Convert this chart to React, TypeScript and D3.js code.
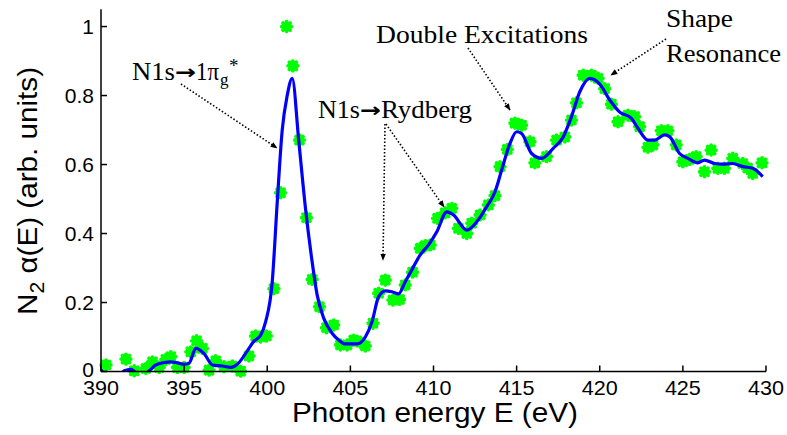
import React from "react";
import * as d3 from "d3";

// ---- data ----
const fitEnergy = [390.0, 390.5, 391.0, 391.4, 391.8, 392.1, 392.5, 392.9, 393.3, 393.8, 394.2, 394.6, 395.0, 395.3, 395.7, 396.2, 396.7, 397.3, 397.8, 398.3, 398.8, 399.2, 399.6, 399.9, 400.3, 400.6, 400.9, 401.2, 401.5, 401.9, 402.3, 402.7, 403.0, 403.4, 403.9, 404.3, 404.7, 405.4, 405.9, 406.3, 406.7, 407.1, 407.5, 407.9, 408.3, 408.8, 409.2, 409.7, 410.2, 410.8, 411.2, 412.0, 412.6, 413.2, 413.7, 414.1, 414.6, 415.0, 415.3, 415.9, 416.5, 417.2, 417.8, 418.3, 418.8, 419.4, 420.0, 420.6, 421.2, 421.9, 422.3, 422.9, 423.3, 423.9, 424.2, 424.8, 425.3, 425.9, 426.3, 426.9, 427.4, 428.0, 428.6, 429.2, 429.8];
const fitAlpha = [0.004, -0.012, -0.015, 0.002, 0.006, -0.003, -0.012, 0.002, 0.019, 0.026, 0.028, 0.025, 0.021, 0.024, 0.067, 0.052, 0.019, 0.016, 0.012, 0.026, 0.06, 0.088, 0.105, 0.144, 0.26, 0.49, 0.70, 0.80, 0.85, 0.666, 0.473, 0.318, 0.222, 0.154, 0.111, 0.091, 0.080, 0.080, 0.10, 0.144, 0.217, 0.234, 0.231, 0.225, 0.26, 0.304, 0.338, 0.367, 0.405, 0.463, 0.454, 0.41, 0.434, 0.478, 0.521, 0.584, 0.661, 0.695, 0.69, 0.632, 0.618, 0.647, 0.68, 0.739, 0.811, 0.85, 0.833, 0.787, 0.752, 0.734, 0.705, 0.671, 0.671, 0.686, 0.681, 0.632, 0.618, 0.605, 0.613, 0.603, 0.601, 0.603, 0.594, 0.589, 0.565];

const measEnergy = [390.3, 391.5, 392.0, 392.7, 393.1, 393.5, 393.9, 394.2, 394.6, 395.0, 395.4, 395.75, 396.1, 396.5, 396.9, 397.4, 397.9, 398.4, 398.9, 399.3, 399.6, 399.95, 400.4, 400.8, 401.16, 401.54, 401.94, 402.36, 402.7, 403.14, 403.56, 404.0, 404.4, 404.8, 405.2, 405.6, 405.9, 406.36, 406.7, 407.1, 407.56, 407.96, 408.3, 408.74, 409.2, 409.5, 409.8, 410.24, 410.7, 411.1, 411.5, 412.0, 412.3, 412.8, 413.3, 413.7, 414.0, 414.44, 414.9, 415.3, 415.8, 416.1, 416.8, 417.4, 417.9, 418.3, 418.6, 419.0, 419.5, 419.9, 420.3, 420.7, 421.1, 421.7, 422.1, 422.4, 422.9, 423.2, 423.7, 424.1, 424.6, 425.0, 425.4, 425.8, 426.3, 426.7, 427.1, 427.5, 428.0, 428.6, 428.9, 429.2, 429.76];
const measAlpha = [0.019, 0.036, 0.002, 0.009, 0.028, 0.012, 0.035, 0.043, 0.012, 0.012, 0.057, 0.089, 0.067, 0.004, 0.031, 0.014, 0.016, 0.001, 0.045, 0.103, 0.10, 0.103, 0.24, 0.518, 1.0, 0.886, 0.671, 0.446, 0.267, 0.188, 0.127, 0.135, 0.077, 0.077, 0.091, 0.085, 0.074, 0.14, 0.227, 0.265, 0.207, 0.209, 0.251, 0.288, 0.357, 0.365, 0.367, 0.444, 0.46, 0.473, 0.415, 0.40, 0.43, 0.454, 0.483, 0.51, 0.594, 0.644, 0.72, 0.714, 0.666, 0.605, 0.623, 0.671, 0.68, 0.729, 0.779, 0.859, 0.859, 0.85, 0.82, 0.775, 0.724, 0.743, 0.739, 0.71, 0.65, 0.657, 0.698, 0.698, 0.657, 0.608, 0.615, 0.623, 0.579, 0.642, 0.589, 0.589, 0.618, 0.603, 0.59, 0.574, 0.605];

const xTicks = [390, 395, 400, 405, 410, 415, 420, 425, 430];
const yTicks = [0, 0.2, 0.4, 0.6, 0.8, 1];
const xLabel = "Photon energy E (eV)";

export default function App() {
  const W = 787, H = 435;
  const x = d3.scaleLinear().domain([390, 430]).range([101, 766]);
  const y = d3.scaleLinear().domain([0, 1.05]).range([371.5, 9.3]);

  const fit = fitEnergy.map((e, i) => [e, fitAlpha[i]] as [number, number]);
  const line = d3.line<[number, number]>()
    .x(d => x(d[0])).y(d => y(d[1]))
    .curve(d3.curveMonotoneX);

  const r = 4.8, dd = 3.5;
  const star = `M0,${-r}L0,${r}M${-r},0L${r},0M${-dd},${-dd}L${dd},${dd}M${-dd},${dd}L${dd},${-dd}`;

  const sans = "Liberation Sans, Arial, sans-serif";
  const serif = "Liberation Serif, Times New Roman, serif";

  const arrows: [number, number, number, number][] = [
    [181, 84, 277, 148],
    [385, 124, 383, 260],
    [386, 124, 444, 207],
    [468, 48, 510, 110],
    [666, 39, 611, 75],
  ];

  return (
    <svg width={W} height={H} style={{ position: "absolute", left: 0, top: 0, background: "#fff" }}>
      <defs>
        <clipPath id="plotclip">
          <rect x={x(390)} y={y(1.05)} width={x(430) - x(390)} height={y(0) - y(1.05)} />
        </clipPath>
        <marker id="ah" viewBox="0 0 10 10" refX="9" refY="5" markerWidth="7" markerHeight="7" orient="auto" markerUnits="userSpaceOnUse">
          <path d="M0,1 L10,5 L0,9 Z" fill="#000" />
        </marker>
      </defs>

      {/* markers */}
      <g stroke="#00ff00" strokeWidth={3.8} strokeLinecap="round" fill="#00ff00">
        {measEnergy.map((e, i) => (
          <g key={i} transform={`translate(${x(e)},${y(measAlpha[i])})`}>
            <path d={star} />
            <circle r={2.2} stroke="none" />
          </g>
        ))}
      </g>

      {/* fitted line */}
      <path d={line(fit) || ""} fill="none" stroke="#0000ff" strokeWidth={3.2} clipPath="url(#plotclip)" strokeLinejoin="round" />

      {/* axes */}
      <g stroke="#000" strokeWidth={1.5} fill="none">
        <line x1={x(390)} y1={y(0)} x2={x(430)} y2={y(0)} />
        <line x1={x(390)} y1={y(0)} x2={x(390)} y2={y(1.05)} />
        {xTicks.map(t => (
          <line key={t} x1={x(t)} x2={x(t)} y1={y(0)} y2={y(0) - 6} />
        ))}
        {yTicks.map(t => (
          <line key={t} x1={x(390)} x2={x(390) + 6} y1={y(t)} y2={y(t)} />
        ))}
      </g>
      <g fontFamily={sans} fontSize={21} fill="#000">
        {xTicks.map(t => (
          <text key={t} x={x(t)} y={395} textAnchor="middle" textLength={36} lengthAdjust="spacingAndGlyphs">{t}</text>
        ))}
        {yTicks.map(t => (
          <text key={t} x={94} y={y(t) + (t === 0 ? 5 : 7.5)} textAnchor="end">{d3.format("~g")(t)}</text>
        ))}
      </g>
      <text x={435} y={422} textAnchor="middle" fontFamily={sans} fontSize={28} textLength={286} lengthAdjust="spacingAndGlyphs">{xLabel}</text>
      <text transform="translate(37,191) rotate(-90)" textAnchor="middle" fontFamily={sans} fontSize={28} textLength={248} lengthAdjust="spacingAndGlyphs">
        <tspan>N</tspan>
        <tspan fontSize={20} dy={7}>2</tspan>
        <tspan dy={-7}> α(E) (arb. units)</tspan>
      </text>

      {/* annotations */}
      <g fontFamily={serif} fill="#000">
        <text y={80} fontSize={25}>
          <tspan x={132} textLength={43} lengthAdjust="spacingAndGlyphs">N1s</tspan>
          <tspan x={175} y={79} fontFamily="DejaVu Sans" fontWeight="bold" fontSize={20} textLength={21} lengthAdjust="spacingAndGlyphs">→</tspan>
          <tspan x={196} y={80} textLength={23} lengthAdjust="spacingAndGlyphs">1π</tspan>
          <tspan x={220} y={85} fontSize={17}>g</tspan>
          <tspan x={229} y={72} fontSize={19}>*</tspan>
        </text>
        <text y={118} fontSize={25}>
          <tspan x={318} textLength={42} lengthAdjust="spacingAndGlyphs">N1s</tspan>
          <tspan x={360} y={117} fontFamily="DejaVu Sans" fontWeight="bold" fontSize={20} textLength={21} lengthAdjust="spacingAndGlyphs">→</tspan>
          <tspan x={381} y={118} textLength={91} lengthAdjust="spacingAndGlyphs">Rydberg</tspan>
        </text>
        <text x={376} y={43} fontSize={26} textLength={212} lengthAdjust="spacingAndGlyphs">Double Excitations</text>
        <text x={666} y={27} fontSize={25} textLength={67} lengthAdjust="spacingAndGlyphs">Shape</text>
        <text x={666} y={62} fontSize={25} textLength={115} lengthAdjust="spacingAndGlyphs">Resonance</text>
      </g>
      <g stroke="#000" strokeWidth={1.6} strokeDasharray="1.5,2" fill="none">
        {arrows.map((a, i) => (
          <line key={i} x1={a[0]} y1={a[1]} x2={a[2]} y2={a[3]} markerEnd="url(#ah)" />
        ))}
      </g>
    </svg>
  );
}
